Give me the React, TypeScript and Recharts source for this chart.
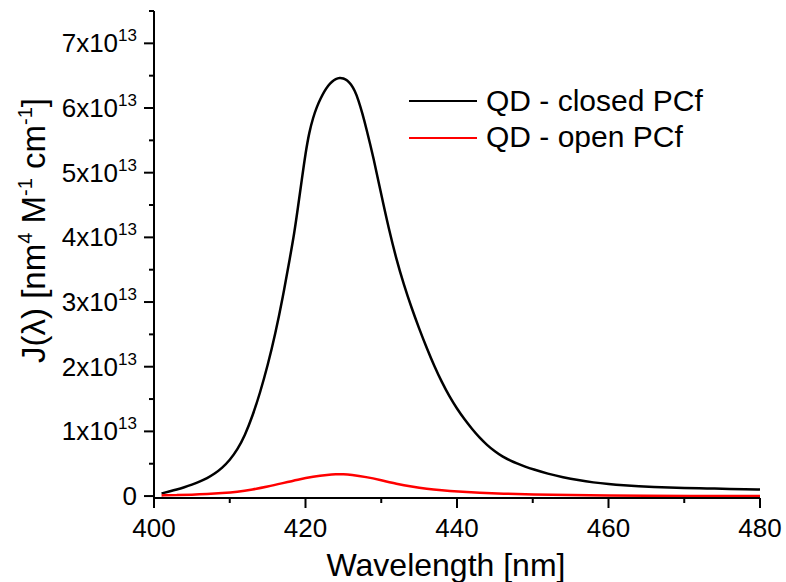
import React from "react";
import { LineChart, Line, XAxis, YAxis, Legend } from "recharts";

// Wavelength [nm] and J(λ) values in units of 10^13 nm^4 M^-1 cm^-1
const closedWavelengths = [
  401, 402, 403, 404, 405, 406, 407, 408, 409, 410, 411, 412, 413, 414, 415, 416, 417, 418, 418.5, 419,
  419.5, 420, 420.5, 421, 421.5, 422, 422.5, 423, 423.5, 424, 424.5, 425, 425.5, 426, 426.5, 427, 427.5, 428, 429, 430,
  431, 432, 433, 434, 435, 436, 437, 438, 439, 440, 441, 442, 443, 444, 445, 446, 447, 448, 449, 450,
  452, 454, 456, 458, 460, 462, 464, 466, 468, 470, 472, 474, 476, 478, 480,
];
const closedValues = [
  0.04, 0.07, 0.1, 0.135, 0.175, 0.22, 0.275, 0.345, 0.435, 0.555, 0.715, 0.935, 1.235, 1.595, 2.015, 2.5, 3.07, 3.72, 4.05, 4.46,
  4.88, 5.3, 5.63, 5.85, 6.02, 6.15, 6.26, 6.35, 6.41, 6.45, 6.47, 6.46, 6.43, 6.37, 6.27, 6.12, 5.92, 5.7, 5.22, 4.66,
  4.13, 3.66, 3.26, 2.91, 2.59, 2.29, 2.01, 1.76, 1.54, 1.35, 1.185, 1.035, 0.9, 0.785, 0.69, 0.61, 0.55, 0.5, 0.455, 0.415,
  0.345, 0.29, 0.245, 0.21, 0.185, 0.165, 0.15, 0.14, 0.13, 0.125, 0.12, 0.115, 0.11, 0.105, 0.1,
];

const openWavelengths = [
  401, 403, 405, 407, 409, 411, 413, 415, 417, 419, 421, 423, 424, 425, 426, 428, 430, 432, 434, 436,
  438, 440, 443, 446, 450, 455, 460, 465, 470, 480,
];
const openValues = [
  0.01, 0.015, 0.02, 0.03, 0.045, 0.065, 0.1, 0.145, 0.2, 0.255, 0.3, 0.33, 0.338, 0.338, 0.33, 0.295, 0.245, 0.19, 0.145, 0.11,
  0.088, 0.07, 0.05, 0.037, 0.025, 0.014, 0.007, 0.003, 0.001, 0.0,
];

const xTicks = [400, 410, 420, 430, 440, 450, 460, 470, 480];
const yTicks = [0, 0.5, 1, 1.5, 2, 2.5, 3, 3.5, 4, 4.5, 5, 5.5, 6, 6.5, 7, 7.5];
const seriesNames = ["QD - closed PCf", "QD - open PCf"];
const xLabel = "Wavelength [nm]";

const closedData = closedWavelengths.map((x, i) => ({ x, y: closedValues[i] }));
const openData = openWavelengths.map((x, i) => ({ x, y: openValues[i] }));

const FONT = '"Liberation Sans", Arial, sans-serif';

const YTick = (props: any) => {
  const { x, y, payload } = props;
  const v = payload.value;
  const major = Number.isInteger(v) && v <= 7;
  return (
    <g>
      <line x1={x - (major ? 10 : 5)} x2={x} y1={y} y2={y} stroke="#000" strokeWidth={2} />
      {major && (
        <text x={x - 17} y={y + 9} textAnchor="end" fontSize={26} fontFamily={FONT} fill="#000">
          {v === 0 ? (
            "0"
          ) : (
            <>
              <tspan>{`${v}x10`}</tspan>
              <tspan dy={-11} fontSize={17}>13</tspan>
            </>
          )}
        </text>
      )}
    </g>
  );
};

const XTick = (props: any) => {
  const { x, y, payload } = props;
  const v = payload.value;
  const major = v % 20 === 0;
  return (
    <g>
      <line x1={x} x2={x} y1={y} y2={y + (major ? 10 : 5)} stroke="#000" strokeWidth={2} />
      {major && (
        <text x={x} y={y + 39} textAnchor="middle" fontSize={26} fontFamily={FONT} fill="#000">
          {v}
        </text>
      )}
    </g>
  );
};

const XLabel = (props: any) => {
  const vb = props.viewBox;
  return (
    <text x={vb.x + vb.width / 2 - 11} y={vb.y + 78} textAnchor="middle" fontSize={32} fontFamily={FONT} fill="#000">
      {xLabel}
    </text>
  );
};

const YLabel = (props: any) => {
  const vb = props.viewBox;
  const cx = 45;
  const cy = vb.y + vb.height / 2 - 24;
  return (
    <text
      x={cx}
      y={cy}
      transform={`rotate(-90, ${cx}, ${cy})`}
      textAnchor="middle"
      fontSize={33}
      fontFamily={FONT}
      fill="#000"
    >
      <tspan>J(λ) [nm</tspan>
      <tspan dy={-13} fontSize={20}>4</tspan>
      <tspan dy={13}> M</tspan>
      <tspan dy={-13} fontSize={20}>-1</tspan>
      <tspan dy={13}> cm</tspan>
      <tspan dy={-13} fontSize={20}>-1</tspan>
      <tspan dy={13}>]</tspan>
    </text>
  );
};

const LegendContent = (props: any) => {
  const { payload } = props;
  return (
    <div>
      {(payload || []).map((p: any) => (
        <div key={p.value} style={{ display: "flex", alignItems: "center", height: 36.7 }}>
          <svg width={68} height={4} style={{ display: "block" }}>
            <line x1={0} x2={68} y1={2} y2={2} stroke={p.color} strokeWidth={2} />
          </svg>
          <span
            style={{
              marginLeft: 9,
              fontSize: 30,
              fontFamily: FONT,
              color: "#000",
              lineHeight: "36.7px",
              whiteSpace: "nowrap",
            }}
          >
            {p.value}
          </span>
        </div>
      ))}
    </div>
  );
};

export default function App() {
  return (
    <div style={{ position: "absolute", left: 0, top: 0, width: 786, height: 582, background: "#fff" }}>
      <LineChart width={786} height={582} margin={{ top: 11, right: 26, bottom: 0, left: 0 }}>
        <XAxis
          dataKey="x"
          type="number"
          domain={[400, 480]}
          ticks={xTicks}
          interval={0}
          allowDataOverflow
          height={84}
          axisLine={{ stroke: "#000", strokeWidth: 2 }}
          tickLine={false}
          tickSize={0}
          tickMargin={0}
          tick={<XTick />}
          label={<XLabel />}
        />
        <YAxis
          type="number"
          domain={[-0.03, 7.5]}
          ticks={yTicks}
          interval={0}
          allowDataOverflow
          width={154}
          axisLine={{ stroke: "#000", strokeWidth: 2 }}
          tickLine={false}
          tickSize={0}
          tickMargin={0}
          tick={<YTick />}
          label={<YLabel />}
        />
        <Legend
          layout="vertical"
          align="center"
          verticalAlign="middle"
          content={<LegendContent />}
          wrapperStyle={{ left: 409, top: 82.6, width: 340 }}
        />
        <Line
          data={closedData}
          dataKey="y"
          name={seriesNames[0]}
          type="basis"
          stroke="#000000"
          strokeWidth={2.5}
          dot={false}
          activeDot={false}
          isAnimationActive={false}
        />
        <Line
          data={openData}
          dataKey="y"
          name={seriesNames[1]}
          type="basis"
          stroke="#ff0000"
          strokeWidth={2.5}
          dot={false}
          activeDot={false}
          isAnimationActive={false}
        />
      </LineChart>
    </div>
  );
}
